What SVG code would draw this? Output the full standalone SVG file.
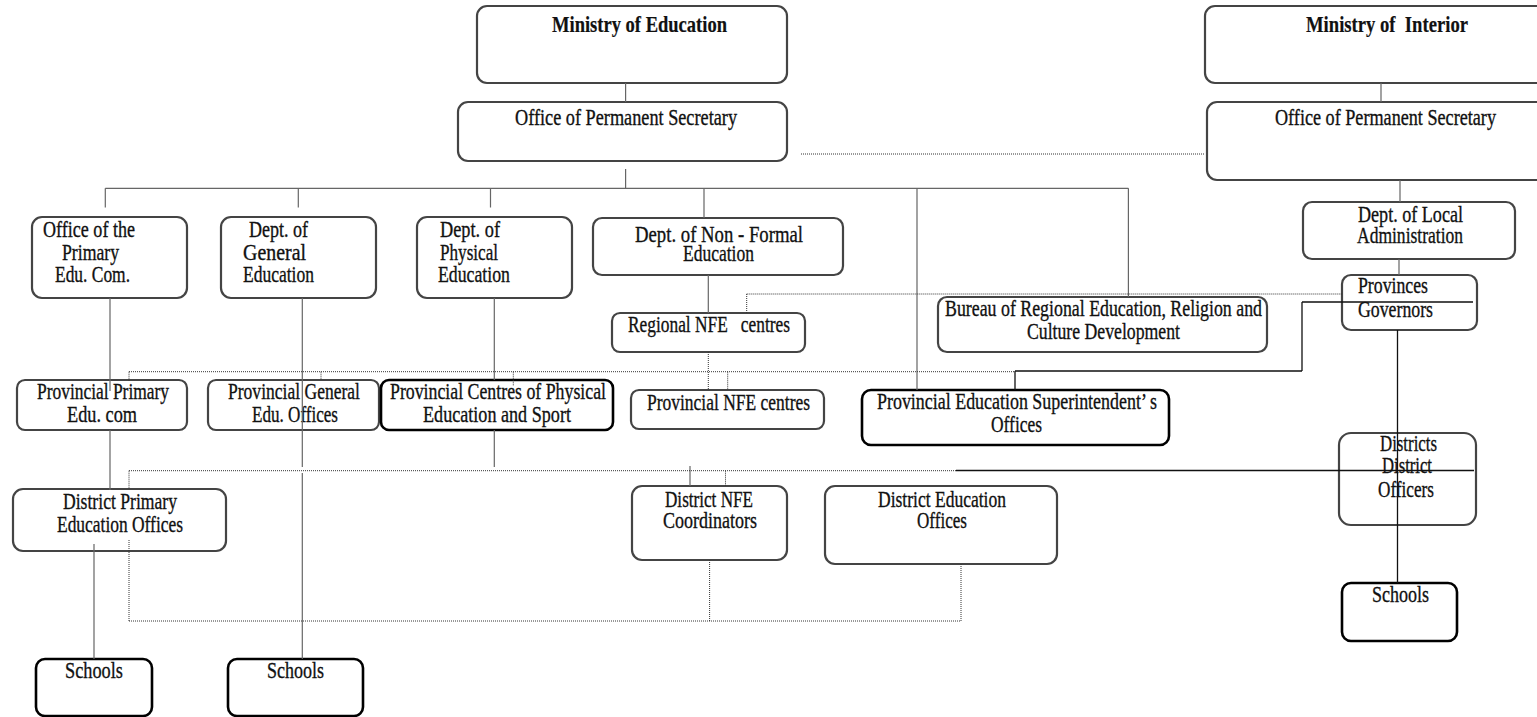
<svg xmlns="http://www.w3.org/2000/svg" width="1537" height="717" viewBox="0 0 1537 717">
<style>
.box{fill:#fff;stroke:#444;stroke-width:2.2}
.boxk{fill:#fff;stroke:#000;stroke-width:2.6}
.ln{stroke:#666;stroke-width:1.2;fill:none}
.lk{stroke:#111;stroke-width:1.3;fill:none}
.dot{stroke:#333;stroke-width:1;stroke-dasharray:1 1;fill:none}
text{font-family:"Liberation Serif","Times New Roman",serif;font-size:24px;fill:#111;stroke:#111;stroke-width:0.35}
.b{font-weight:bold;stroke-width:0.2}
</style>
<rect width="1537" height="717" fill="#fff"/>
<g id="nodes">
<g id="moe"><rect class="box" x="477" y="6" width="310" height="77" rx="10"/><text class="b" x="552" y="32" textLength="175" lengthAdjust="spacingAndGlyphs">Ministry of Education</text></g>
<g id="moe_ops"><rect class="box" x="458" y="102" width="329" height="59" rx="10"/><text x="515" y="125" textLength="222" lengthAdjust="spacingAndGlyphs">Office of Permanent Secretary</text></g>
<g id="moi"><rect class="box" x="1205" y="6" width="350" height="77" rx="10"/><text class="b" x="1306" y="32" textLength="162" lengthAdjust="spacingAndGlyphs" xml:space="preserve">Ministry of  Interior</text></g>
<g id="moi_ops"><rect class="box" x="1207" y="102" width="350" height="78" rx="10"/><text x="1275" y="125" textLength="221" lengthAdjust="spacingAndGlyphs">Office of Permanent Secretary</text></g>
<g id="local_admin"><rect class="box" x="1303" y="202" width="212" height="57" rx="9"/><text x="1358" y="222" textLength="105" lengthAdjust="spacingAndGlyphs">Dept. of Local</text><text x="1357" y="243" textLength="106" lengthAdjust="spacingAndGlyphs">Administration</text></g>
<g id="provinces"><rect class="box" x="1342" y="275" width="135" height="55" rx="9"/><text x="1358" y="293" textLength="70" lengthAdjust="spacingAndGlyphs">Provinces</text><text x="1358" y="317" textLength="75" lengthAdjust="spacingAndGlyphs">Governors</text></g>
<g id="office_primary"><rect class="box" x="32" y="217" width="155" height="81" rx="10"/><text x="43" y="237" textLength="92" lengthAdjust="spacingAndGlyphs">Office of the</text><text x="62" y="260" textLength="57" lengthAdjust="spacingAndGlyphs">Primary</text><text x="55" y="282" textLength="75" lengthAdjust="spacingAndGlyphs">Edu. Com.</text></g>
<g id="dept_general"><rect class="box" x="221" y="217" width="155" height="81" rx="10"/><text x="249" y="237" textLength="59" lengthAdjust="spacingAndGlyphs">Dept. of</text><text x="243" y="260" textLength="63" lengthAdjust="spacingAndGlyphs">General</text><text x="243" y="282" textLength="71" lengthAdjust="spacingAndGlyphs">Education</text></g>
<g id="dept_physical"><rect class="box" x="417" y="217" width="155" height="81" rx="10"/><text x="440" y="237" textLength="60" lengthAdjust="spacingAndGlyphs">Dept. of</text><text x="440" y="260" textLength="58" lengthAdjust="spacingAndGlyphs">Physical</text><text x="438" y="282" textLength="72" lengthAdjust="spacingAndGlyphs">Education</text></g>
<g id="dept_nfe"><rect class="box" x="593" y="218" width="250" height="57" rx="9"/><text x="635" y="242" textLength="168" lengthAdjust="spacingAndGlyphs">Dept. of Non - Formal</text><text x="683" y="261" textLength="71" lengthAdjust="spacingAndGlyphs">Education</text></g>
<g id="regional_nfe"><rect class="box" x="612" y="313" width="193" height="39" rx="8"/><text x="628" y="332" textLength="162" lengthAdjust="spacingAndGlyphs" xml:space="preserve">Regional NFE   centres</text></g>
<g id="bureau"><rect class="box" x="938" y="297" width="329" height="55" rx="9"/><text x="945" y="316" textLength="317" lengthAdjust="spacingAndGlyphs">Bureau of Regional Education, Religion and</text><text x="1027" y="339" textLength="153" lengthAdjust="spacingAndGlyphs">Culture Development</text></g>
<g id="prov_primary"><rect class="box" x="17" y="380" width="170" height="50" rx="8"/><text x="37" y="399" textLength="132" lengthAdjust="spacingAndGlyphs">Provincial Primary</text><text x="67" y="422" textLength="70" lengthAdjust="spacingAndGlyphs">Edu. com</text></g>
<g id="prov_general"><rect class="box" x="208" y="380" width="171" height="50" rx="8"/><text x="228" y="399" textLength="132" lengthAdjust="spacingAndGlyphs">Provincial General</text><text x="252" y="422" textLength="86" lengthAdjust="spacingAndGlyphs">Edu. Offices</text></g>
<g id="prov_centres"><rect class="boxk" x="381" y="380" width="232" height="50" rx="8"/><text x="390" y="399" textLength="216" lengthAdjust="spacingAndGlyphs">Provincial Centres of Physical</text><text x="423" y="422" textLength="148" lengthAdjust="spacingAndGlyphs">Education and Sport</text></g>
<g id="prov_nfe"><rect class="box" x="631" y="390" width="193" height="39" rx="8"/><text x="647" y="410" textLength="163" lengthAdjust="spacingAndGlyphs">Provincial NFE centres</text></g>
<g id="prov_sup"><rect class="boxk" x="862" y="390" width="307" height="55" rx="9"/><text x="877" y="409" textLength="280" lengthAdjust="spacingAndGlyphs">Provincial Education Superintendent’ s</text><text x="991" y="432" textLength="51" lengthAdjust="spacingAndGlyphs">Offices</text></g>
<g id="districts"><rect class="box" x="1339" y="433" width="137" height="92" rx="12"/><text x="1380" y="451" textLength="57" lengthAdjust="spacingAndGlyphs">Districts</text><text x="1382" y="473" textLength="50" lengthAdjust="spacingAndGlyphs">District</text><text x="1378" y="497" textLength="56" lengthAdjust="spacingAndGlyphs">Officers</text></g>
<g id="district_primary"><rect class="box" x="13" y="489" width="213" height="62" rx="10"/><text x="63" y="509" textLength="114" lengthAdjust="spacingAndGlyphs">District Primary</text><text x="57" y="532" textLength="126" lengthAdjust="spacingAndGlyphs">Education Offices</text></g>
<g id="district_nfe"><rect class="box" x="632" y="486" width="155" height="74" rx="10"/><text x="665" y="507" textLength="88" lengthAdjust="spacingAndGlyphs">District NFE</text><text x="663" y="528" textLength="94" lengthAdjust="spacingAndGlyphs">Coordinators</text></g>
<g id="district_edu"><rect class="box" x="825" y="486" width="232" height="78" rx="10"/><text x="878" y="507" textLength="128" lengthAdjust="spacingAndGlyphs">District Education</text><text x="917" y="528" textLength="50" lengthAdjust="spacingAndGlyphs">Offices</text></g>
<g id="schools1"><rect class="boxk" x="36" y="659" width="116" height="57" rx="9"/><text x="65" y="678" textLength="58" lengthAdjust="spacingAndGlyphs">Schools</text></g>
<g id="schools2"><rect class="boxk" x="228" y="659" width="135" height="57" rx="9"/><text x="267" y="678" textLength="57" lengthAdjust="spacingAndGlyphs">Schools</text></g>
<g id="schools3"><rect class="boxk" x="1342" y="583" width="115" height="58" rx="9"/><text x="1372" y="602" textLength="57" lengthAdjust="spacingAndGlyphs">Schools</text></g>
</g>
<g id="connectors">
<path class="ln" d="M625.6 83V102M625.6 169V188.3M105.3 188.3H1128.4M105.3 188.3V207.5M298.3 188.3V207.5M490.5 188.3V207.5M704 188.3V218M917 188.3V390M1128.4 188.3V297M708.3 275V313"/>
<path class="ln" d="M1381 83V102M1400 180V202M1399 259V275"/>
<path class="ln" d="M110 298V391M110 430V490M302.3 298V467M302.3 473V659M494.3 298V380M494.3 430V467M94 544V659M690 466V486"/>
<path class="lk" d="M1302 302H1473M1302 302V371M1015 371H1302M1015 371V390M956 470.5H1474M1397.5 330V583"/>
<path class="dot" d="M801 154H1205M746.7 294H1342M746.7 294V313M129 371.7H1015M129 371.7V381M321 371.7V380M513.3 371.7V386M727.7 371.7V390M708.3 352V390"/>
<path class="dot" d="M129 470.7H956M129 470.7V489M129 540V621M129 621H961M709.6 560V621M961 564V621M725.5 470.7V486"/>
</g>
</svg>
